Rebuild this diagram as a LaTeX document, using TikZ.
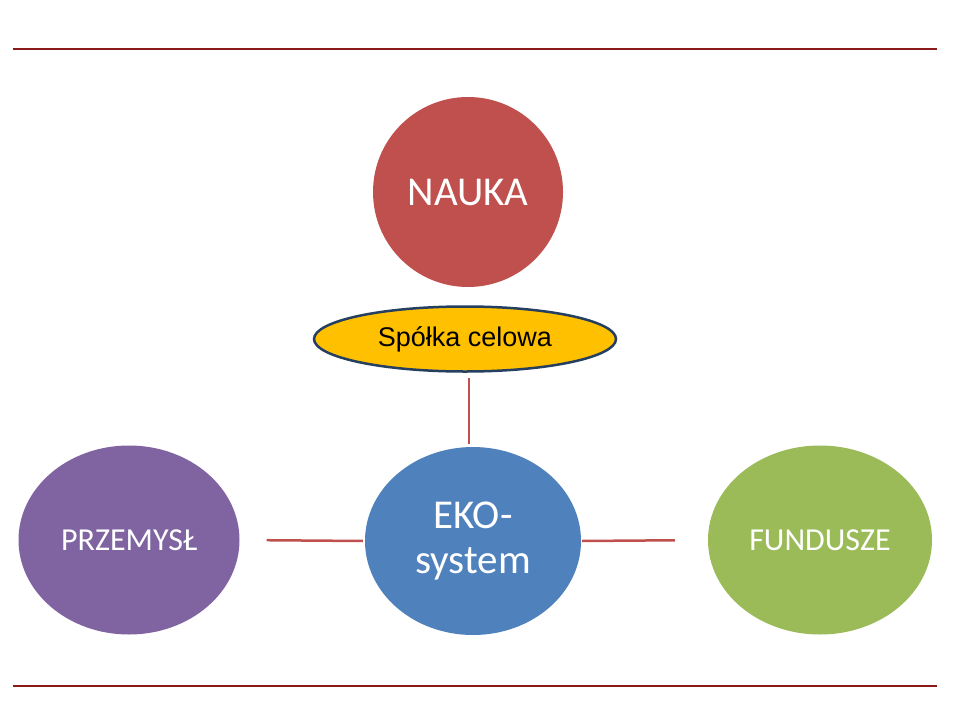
\documentclass[tikz,border=0pt]{standalone}
\usepackage{fontspec}
\setmainfont{Carlito}
\newfontfamily\arialf{Liberation Sans}
\usetikzlibrary{shapes.geometric}
\definecolor{naukac}{HTML}{C0504D}
\definecolor{przemc}{HTML}{8064A2}
\definecolor{ekoc}{HTML}{4F81BD}
\definecolor{fundc}{HTML}{9BBB59}
\definecolor{spolc}{HTML}{FFC000}
\definecolor{spolb}{HTML}{243F60}
\definecolor{rulec}{HTML}{8B1A1A}
\definecolor{connc}{HTML}{C0504D}
\begin{document}
\begin{tikzpicture}[x=1pt,y=-1pt,
  blob/.style={ellipse, draw=none, inner sep=0pt, text=white, align=center},
  bigtxt/.style={font=\fontsize{41}{45}\selectfont},
  midtxt/.style={font=\fontsize{32}{38}\selectfont},
  conn/.style={draw=connc, line width=2.5pt},
  rulel/.style={draw=rulec, line width=1.5pt}]
\useasboundingbox (0,0) rectangle (960,720);
\fill[white] (0,0) rectangle (960,720);
\draw[rulel] (13,49) -- (937,49);
\draw[rulel] (13,686) -- (937,686);
\node[blob, bigtxt, fill=naukac, minimum width=190pt, minimum height=190pt] (nauka) at (468,192) {NAUKA};
\node[blob, bigtxt, fill=ekoc, minimum width=216pt, minimum height=188pt] (eko) at (473,541) {EKO-\\system};
\node[blob, midtxt, fill=przemc, minimum width=221pt, minimum height=189pt] (przem) at (129,540) {PRZEMYSŁ};
\node[blob, midtxt, fill=fundc, minimum width=224pt, minimum height=189pt] (fund) at (820,540) {FUNDUSZE};
\node[ellipse, draw=spolb, line width=2.5pt, fill=spolc, inner sep=0pt, minimum width=302pt, minimum height=65pt, font=\arialf\fontsize{27}{31}\selectfont] (spol) at (465,339) {Spółka celowa};
\draw[conn, shorten <=3pt, shorten >=5pt] (eko.north -| 469,0) -- (spol.south -| 469,0);
\draw[conn, shorten <=2pt, shorten >=27pt] (eko.west) -- (przem.east);
\draw[conn, shorten <=1pt, shorten >=33pt] (eko.east) -- (fund.west);
\end{tikzpicture}
\end{document}
